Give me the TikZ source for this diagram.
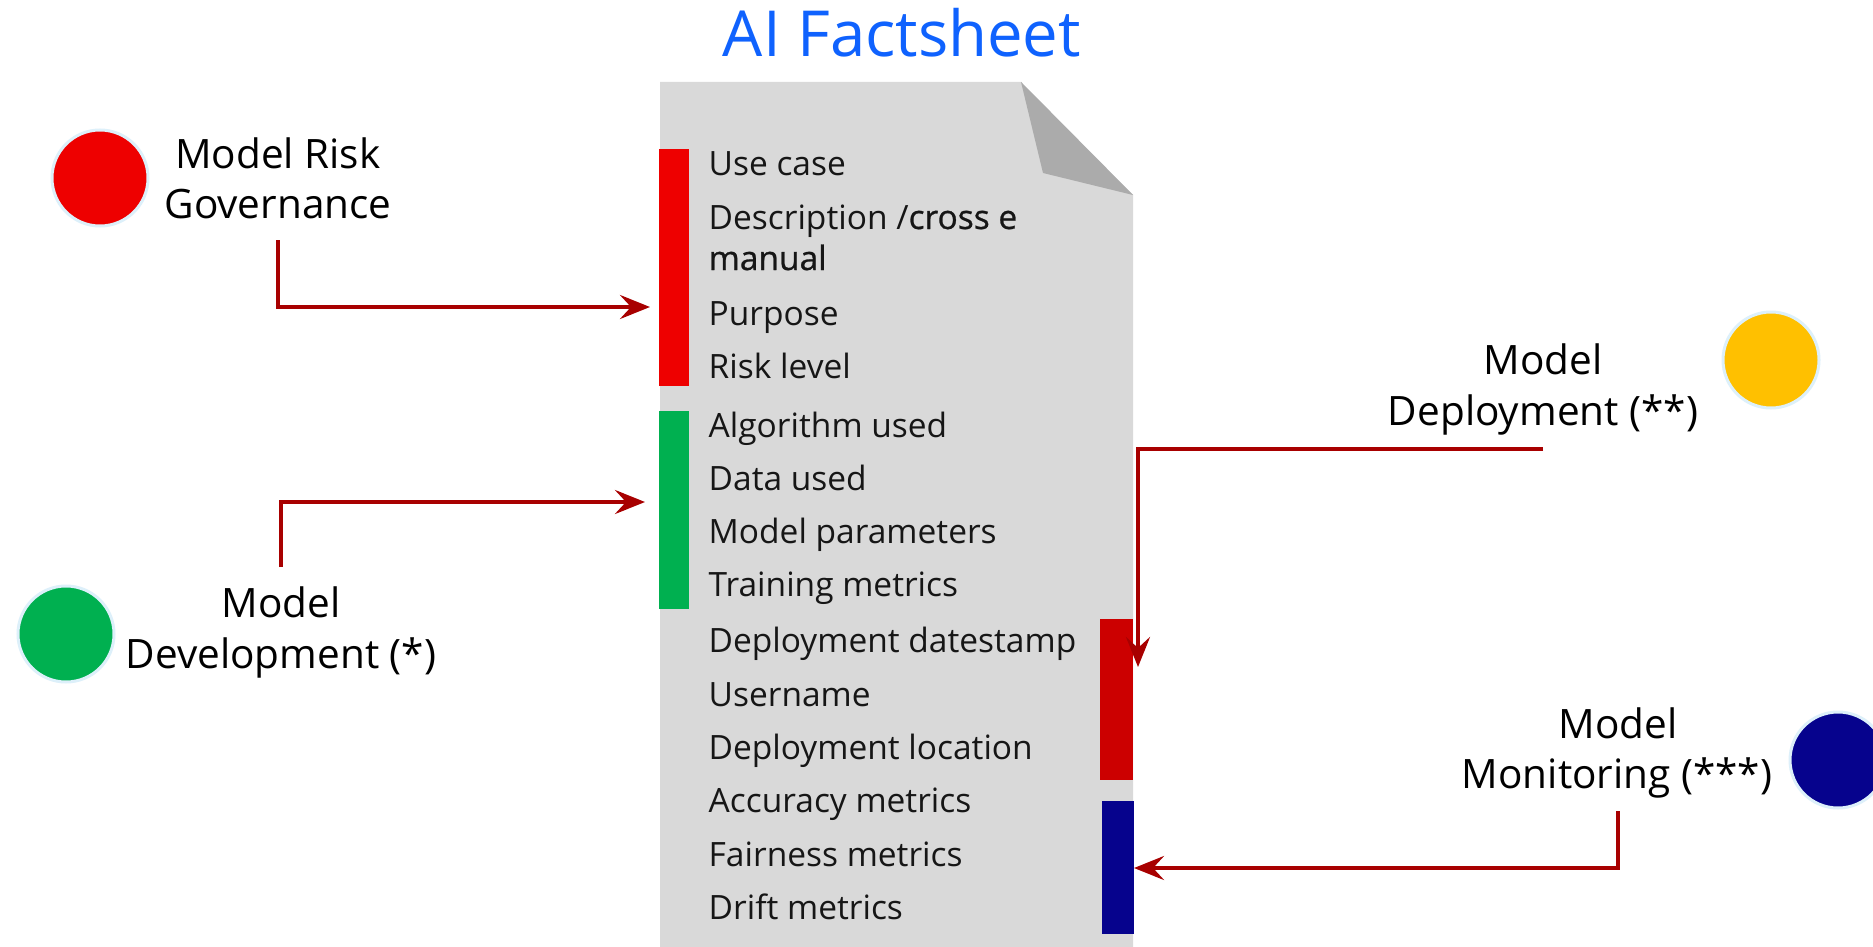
\documentclass[tikz,border=0pt]{standalone}
\usepackage{fontspec}
\setmainfont{Open Sans}
\usetikzlibrary{arrows.meta}
\definecolor{paper}{HTML}{D9D9D9}
\definecolor{fold}{HTML}{ABABAB}
\definecolor{brightred}{HTML}{EE0000}
\definecolor{darkredbar}{HTML}{CC0000}
\definecolor{okgreen}{HTML}{00B050}
\definecolor{navy}{RGB}{6,3,141}
\definecolor{amber}{HTML}{FFC000}
\definecolor{halo}{HTML}{DDF0FA}
\definecolor{arrred}{HTML}{A80000}
\definecolor{ink}{HTML}{161616}
\definecolor{titleblue}{HTML}{0F62FE}
\begin{document}
\begin{tikzpicture}[x=1pt,y=-1pt,
  item/.style={anchor=base west, inner sep=0pt, font=\fontsize{33.5}{40}\selectfont, text=ink},
  lbl/.style={anchor=base, inner sep=0pt, font=\fontsize{40.5}{48}\selectfont, text=black},
  arr/.style={draw=arrred, line width=4pt, -{Stealth[length=30pt,width=24pt,inset=11pt]}},
  dot/.style={circle, draw=halo, line width=3pt, minimum size=96pt, inner sep=0pt},
  barbox/.style={inner sep=0pt, draw=none, anchor=north west, minimum width=30pt}]
\useasboundingbox (0,0) rectangle (1873,947);
\fill[white] (0,0) rectangle (1873,947);

% title
\node[anchor=base, inner sep=0pt, font=\fontsize{63.5}{70}\selectfont, text=titleblue] (title) at (902,57) {AI Factsheet};

% paper
\fill[paper] (660,82) -- (1021,82) -- (1133,195) -- (1133,947) -- (660,947) -- cycle;
\fill[fold] (1021,82) -- (1043,173) -- (1133,195) -- cycle;

% bars
\node[barbox, fill=brightred, minimum height=237pt] (redbar) at (659,149) {};
\node[barbox, fill=okgreen, minimum height=198pt] (greenbar) at (659,411) {};
\node[barbox, fill=darkredbar, minimum width=33pt, minimum height=161pt] (depbar) at (1100,619) {};
\node[barbox, fill=navy, minimum width=32pt, minimum height=133pt] (monbar) at (1102,801) {};

% items
\node[item] (i1) at (708.5,175) {Use case};
\node[item] (i2) at (708.5,229) {Description /{\addfontfeature{FakeBold=0.8}cross e}};
\node[item] (i3) at (708.5,270) {\addfontfeature{FakeBold=0.8}manual};
\node[item] (i4) at (708.5,325) {Purpose};
\node[item] (i5) at (708.5,378) {Risk level};
\node[item] (i6) at (708.5,437) {Algorithm used};
\node[item] (i7) at (708.5,490) {Data used};
\node[item] (i8) at (708.5,543) {Model parameters};
\node[item] (i9) at (708.5,596) {Training metrics};
\node[item] (i10) at (708.5,652) {Deployment datestamp};
\node[item] (i11) at (708.5,706) {Username};
\node[item] (i12) at (708.5,759) {Deployment location};
\node[item] (i13) at (708.5,812) {Accuracy metrics};
\node[item] (i14) at (708.5,866) {Fairness metrics};
\node[item] (i15) at (708.5,919) {Drift metrics};

% circles
\node[dot, fill=brightred] (cgov) at (100,178) {};
\node[dot, fill=okgreen] (cdev) at (66,634) {};
\node[dot, fill=amber] (cdep) at (1771,360) {};
\node[dot, fill=navy] (cmon) at (1838,760) {};

% labels
\node[lbl] (gov1) at (278,168) {Model Risk};
\node[lbl] (gov2) at (278,218) {Governance};
\node[lbl] (dev1) at (281,617) {Model};
\node[lbl] (dev2) at (281,668) {Development (*)};
\node[lbl] (dep1) at (1543,374) {Model};
\node[lbl] (dep2) at (1543,425) {Deployment (**)};
\node[lbl] (mon1) at (1618,738) {Model};
\node[lbl] (mon2) at (1617,788) {Monitoring (***)};

% connector ends
\coordinate (govS) at (278,240);
\coordinate (govE) at (650,307);
\coordinate (devS) at (281,567);
\coordinate (devE) at (645,502);
\coordinate (depS) at (1543,449);
\coordinate (depE) at (1138,667);
\coordinate (monS) at (1618,811);
\coordinate (monE) at (1134,868);

\draw[arr] (govS) |- (govE);
\draw[arr] (devS) |- (devE);
\draw[arr] (depS) -| (depE);
\draw[arr] (monS) |- (monE);
\end{tikzpicture}
\end{document}
